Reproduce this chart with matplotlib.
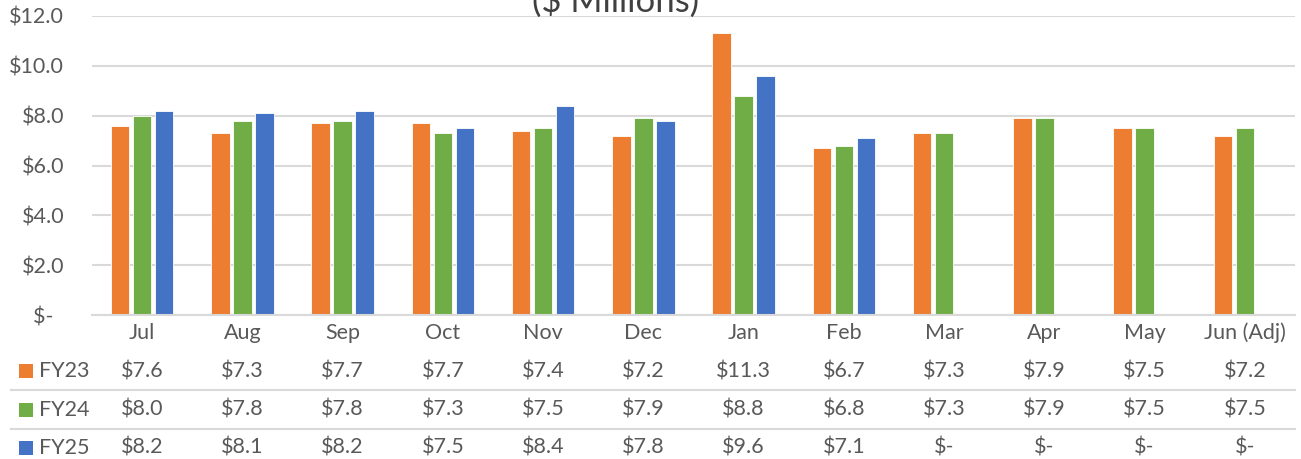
import matplotlib
matplotlib.use("Agg")
import matplotlib.pyplot as plt
import matplotlib.transforms as mtransforms
from matplotlib.patches import Rectangle
import numpy as np

plt.rcParams['font.family'] = ['Lato', 'DejaVu Sans']

months = ["Jul", "Aug", "Sep", "Oct", "Nov", "Dec", "Jan", "Feb", "Mar", "Apr", "May", "Jun (Adj)"]
fy23 = [7.6, 7.3, 7.7, 7.7, 7.4, 7.2, 11.3, 6.7, 7.3, 7.9, 7.5, 7.2]
fy24 = [8.0, 7.8, 7.8, 7.3, 7.5, 7.9, 8.8, 6.8, 7.3, 7.9, 7.5, 7.5]
fy25 = [8.2, 8.1, 8.2, 7.5, 8.4, 7.8, 9.6, 7.1, None, None, None, None]
series_names = ["FY23", "FY24", "FY25"]
series_values = [fy23, fy24, fy25]
colors = ["#ED7D31", "#70AD47", "#4472C4"]
yticks = [0, 2, 4, 6, 8, 10, 12]
title = "($ Millions)"

W, H = 1301, 459
fig = plt.figure(figsize=(W / 100, H / 100), dpi=100)

def fy(py):
    return 1 - py / H

ax_left, ax_right = 92 / W, 1295 / W
ax_top, ax_bot = 16, 315
ax = fig.add_axes([ax_left, fy(ax_bot), ax_right - ax_left, (ax_bot - ax_top) / H])

x = np.arange(len(months))
bw = 0.185
offsets = [-0.22, 0.0, 0.22]
for vals, c, off in zip(series_values, colors, offsets):
    h = [v if v is not None else 0 for v in vals]
    ax.bar(x + off, h, width=bw, color=c, edgecolor="white", linewidth=0.6, zorder=3)

fs = 15.5
txtc = "#595959"

ax.set_xlim(-0.5, len(months) - 0.5)
ax.set_ylim(0, 12)
ax.set_yticks(yticks)
ax.set_yticklabels([f"${v:.1f}" if v else "$-  " for v in yticks])
ax.tick_params(axis="y", length=0, pad=20, labelsize=fs, labelcolor=txtc)
ax.set_xticks([])
ax.grid(axis="y", color="#D9D9D9", linewidth=1.5, zorder=0)
for s in ["top", "right", "left"]:
    ax.spines[s].set_visible(False)
ax.spines["bottom"].set_color("#D9D9D9")
ax.spines["bottom"].set_linewidth(1.5)
ax.spines["bottom"].set_zorder(4)

trans = mtransforms.blended_transform_factory(ax.transData, fig.transFigure)

# month labels
for xi, m in zip(x, months):
    ax.text(xi, fy(333), m, transform=trans, ha="center", va="center", fontsize=fs, color=txtc)

row_y = [371, 410, 448]
for name, vals, c, ry in zip(series_names, series_values, colors, row_y):
    for xi, v in zip(x, vals):
        s = f"${v:.1f}" if v is not None else "$-"
        ax.text(xi, fy(ry), s, transform=trans, ha="center", va="center", fontsize=fs, color=txtc)
    fig.patches.append(Rectangle((19 / W, fy(ry + 7)), 14 / W, 14 / H, transform=fig.transFigure,
                                 facecolor=c, edgecolor="none"))
    fig.text(39 / W, fy(ry), name, ha="left", va="center", fontsize=fs, color=txtc)

for ly in [390, 429]:
    fig.add_artist(plt.Line2D([11 / W, 1295 / W], [fy(ly), fy(ly)], color="#D9D9D9", linewidth=1.5,
                              transform=fig.transFigure))

fig.text(616 / W, fy(12), title, ha="center", va="baseline", fontsize=25, color="#404040")

fig.savefig("out.png", dpi=100)
